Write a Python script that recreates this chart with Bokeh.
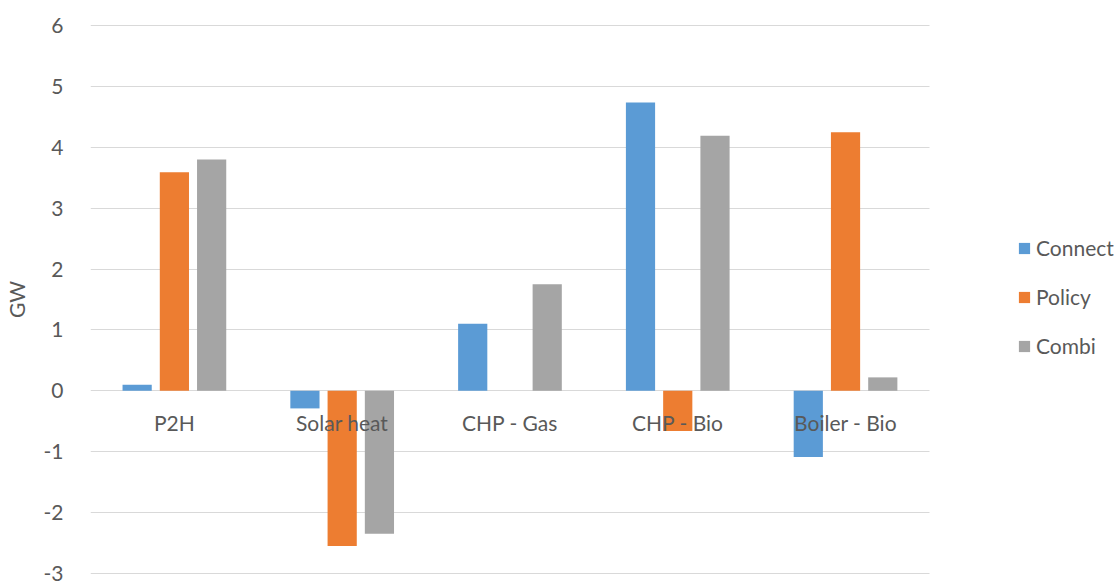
import numpy as np
from bokeh.plotting import figure
from bokeh.models import (ColumnDataSource, Range1d, FixedTicker,
                          Legend, LegendItem)
from bokeh.transform import dodge
from bokeh.core.properties import value
from bokeh.embed import file_html
from bokeh.resources import INLINE

categories = ["P2H", "Solar heat", "CHP - Gas", "CHP - Bio", "Boiler - Bio"]
connect = [0.1, -0.29, 1.1, 4.74, -1.09]
policy = [3.59, -2.55, 0.0, -0.66, 4.25]
combi = [3.8, -2.35, 1.75, 4.19, 0.22]
series_names = ["Connect", "Policy", "Combi"]
y_ticks = [-3, -2, -1, 0, 1, 2, 3, 4, 5, 6]

colors = ["#5B9BD5", "#ED7D31", "#A5A5A5"]
FONT = "Lato"
TXT = "#595959"
FS = "21px"

pos = np.arange(len(categories))
src = ColumnDataSource(dict(pos=pos, cat=categories, connect=connect, policy=policy,
                            combi=combi, zero=[0] * len(categories)))

n = len(categories)
p = figure(width=1120, height=586, x_range=Range1d(-0.5, -0.5 + 1035 / 168.6),
           y_range=Range1d(-3.02, 6.02), output_backend="svg", toolbar_location=None,
           min_border_left=85, min_border_right=0, min_border_top=24,
           min_border_bottom=12)
p.outline_line_color = None
p.xaxis.visible = False
p.xgrid.visible = False
p.ygrid.grid_line_color = "#d9d9d9"
p.ygrid.grid_line_width = 1
p.ygrid.cross_bounds = (-0.5, n - 0.5)
p.yaxis.ticker = FixedTicker(ticks=y_ticks)
p.yaxis.major_label_overrides = {t: str(t) for t in y_ticks}
p.yaxis.axis_line_color = None
p.yaxis.major_tick_line_color = None
p.yaxis.minor_tick_line_color = None
p.yaxis.major_label_text_font = FONT
p.yaxis.major_label_text_font_size = FS
p.yaxis.major_label_text_color = TXT
p.yaxis.major_label_standoff = 21
p.yaxis.axis_label = "GW"
p.yaxis.axis_label_text_font = FONT
p.yaxis.axis_label_text_font_style = "normal"
p.yaxis.axis_label_text_font_size = FS
p.yaxis.axis_label_text_color = TXT
p.yaxis.axis_label_standoff = 12

renderers = []
for key, off, col in zip(["connect", "policy", "combi"], [-0.222, 0.0, 0.222], colors):
    r = p.vbar(x=dodge("pos", off), top=key, bottom=0,
               width=0.174, source=src, fill_color=col, line_color=None)
    renderers.append(r)

p.text(x="pos", y="zero", text="cat", source=src, y_offset=32,
       text_align="center", text_baseline="middle",
       text_font=value(FONT), text_font_size=FS, text_color=TXT)

legend = Legend(items=[LegendItem(label=s, renderers=[r]) for s, r in zip(series_names, renderers)],
                location=(927, 216), padding=0, margin=0, spacing=24,
                glyph_width=14, glyph_height=14, label_height=22, label_standoff=5,
                label_text_font=FONT, label_text_font_size=FS,
                label_text_color=TXT, border_line_color=None,
                background_fill_alpha=0)
p.add_layout(legend, "center")

open("out.html", "w").write(file_html(p, INLINE))
